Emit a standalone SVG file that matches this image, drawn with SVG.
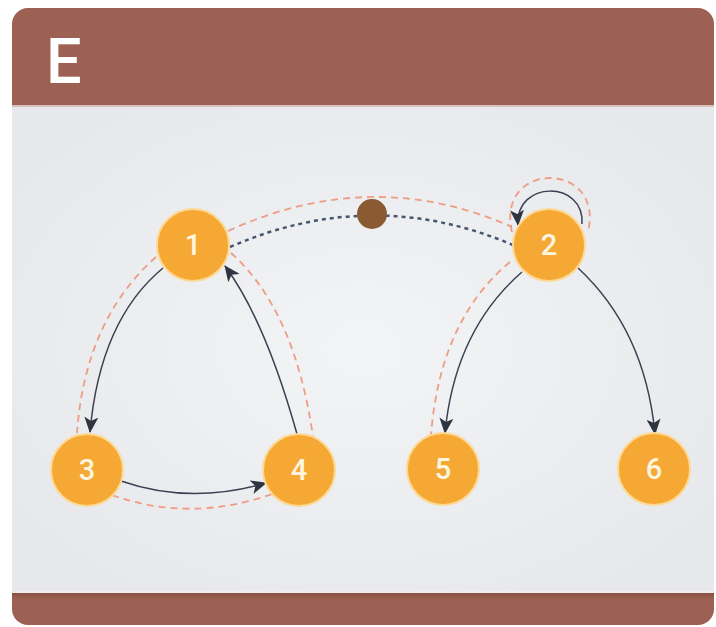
<svg xmlns="http://www.w3.org/2000/svg" width="716" height="627" viewBox="0 0 716 627">
<defs>
<radialGradient id="bg" cx="0.5" cy="0.5" r="0.6">
<stop offset="0" stop-color="#F3F4F6"/>
<stop offset="1" stop-color="#E6E8EB"/>
</radialGradient>
<linearGradient id="shade" x1="0" y1="0" x2="0" y2="1">
<stop offset="0" stop-color="#7E4A3E"/>
<stop offset="1" stop-color="#9C6152"/>
</linearGradient>
<marker id="arr" viewBox="0 0 16 14" refX="15" refY="7" markerWidth="16" markerHeight="14" markerUnits="userSpaceOnUse" orient="auto">
<path d="M0,0 L16,7 L0,14 L4,7 z" fill="#2E3440"/>
</marker>
</defs>
<style>
.edge{fill:none;stroke:#3A4150;stroke-width:1.5;marker-end:url(#arr)}
.trace{fill:none;stroke:#EE9478;stroke-width:1.8;stroke-dasharray:7 5;opacity:0.9}
.dot{fill:none;stroke:#45566E;stroke-width:2.5;stroke-dasharray:4 4}
.node circle{fill:#F6A834;stroke:#FCD995;stroke-width:2}
.node text{font-family:Roboto,"Liberation Sans",sans-serif;font-size:29px;font-weight:500;fill:#FFF6E0;text-anchor:middle;dominant-baseline:central}
</style>
<rect width="716" height="627" fill="#FFFFFF"/>
<g id="card">
<rect x="12" y="8" width="702" height="617" rx="16" fill="#9C6152"/>
<rect x="12" y="105" width="702" height="487" fill="url(#bg)"/>
<rect x="12" y="105" width="702" height="2" fill="#C9A79E" opacity="0.6"/>
<rect x="12" y="591" width="702" height="2" fill="#F4ECEA"/>
<rect x="12" y="593" width="702" height="6" fill="url(#shade)" opacity="0.7"/>
<text x="46" y="83" font-family="Roboto,'Liberation Sans',sans-serif" font-weight="500" font-size="63" fill="#FFFFFF">E</text>
</g>
<g id="connectors">
<path class="trace" d="M156,257 Q85,320 77,433"/>
<path class="trace" d="M231,253 Q295,310 313,437"/>
<path class="trace" d="M112,495 Q190,523 272,494"/>
<path class="trace" d="M228,231 Q372,165 512,227"/>
<path class="trace" d="M512,232 C495,160 605,160 588,232"/>
<path class="trace" d="M510,262 Q440,320 431,435"/>
<path class="dot" d="M230,247 Q372,185 513,245"/>
<path class="edge" d="M163,268 Q100,320 90,432"/>
<path class="edge" d="M297,434 Q265,320 225,266"/>
<path class="edge" d="M121,481 Q190,505 266,483"/>
<path class="edge" d="M582,224 C585,180 515,180 518,225"/>
<path class="edge" d="M522,272 Q455,330 445,433"/>
<path class="edge" d="M578,268 Q645,330 655,434"/>
</g>
<g id="hub"><circle cx="372" cy="214" r="15" fill="#8A5A33"/></g>
<g id="n1" class="node"><circle cx="193" cy="245" r="36"/><text x="193" y="245">1</text></g>
<g id="n2" class="node"><circle cx="549" cy="245" r="36"/><text x="549" y="245">2</text></g>
<g id="n3" class="node"><circle cx="87" cy="470" r="36"/><text x="87" y="470">3</text></g>
<g id="n4" class="node"><circle cx="299" cy="470" r="36"/><text x="299" y="470">4</text></g>
<g id="n5" class="node"><circle cx="443" cy="469" r="36"/><text x="443" y="469">5</text></g>
<g id="n6" class="node"><circle cx="654" cy="469" r="36"/><text x="654" y="469">6</text></g>
</svg>
